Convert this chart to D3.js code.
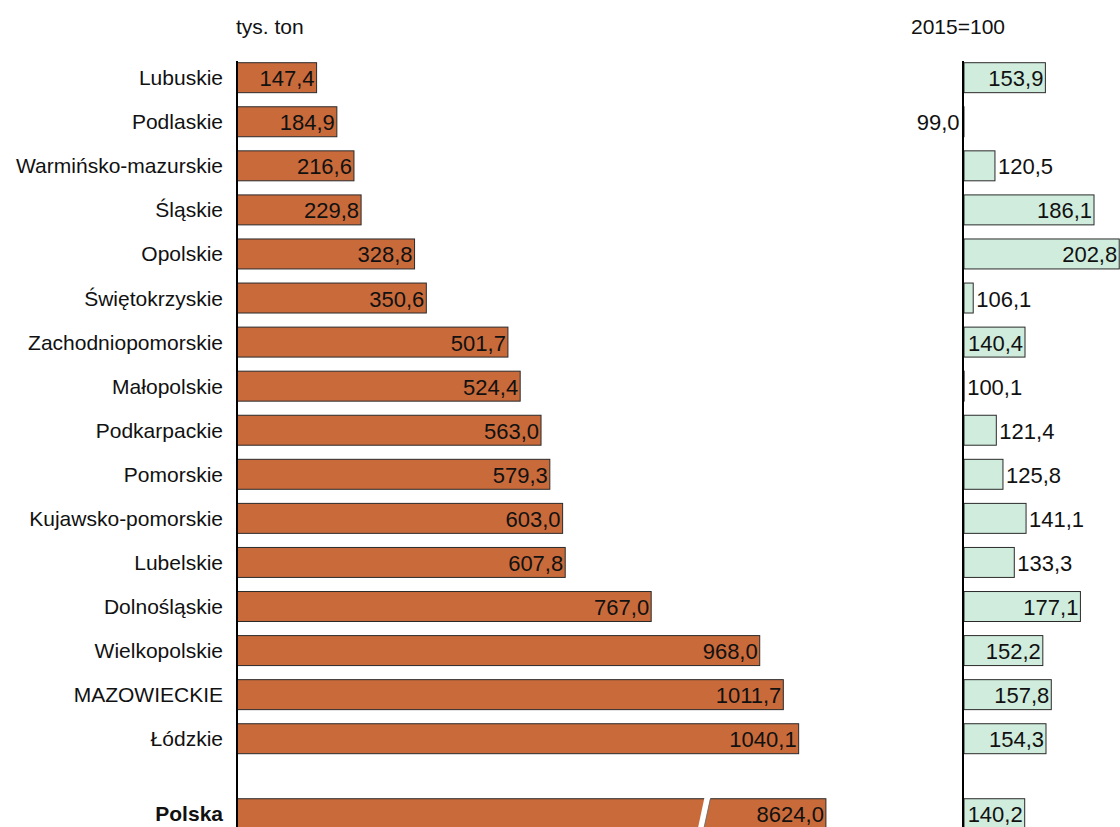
<!DOCTYPE html>
<html><head><meta charset="utf-8">
<script src="https://cdn.jsdelivr.net/npm/d3@7"></script>
<style>
html,body{margin:0;padding:0;background:#fff;}
svg text{font-family:"Liberation Sans",Arial,sans-serif;fill:#111;}
</style></head>
<body>
<svg id="chart" width="1120" height="827"></svg>
<script>
const regions = ["Lubuskie","Podlaskie","Warmińsko-mazurskie","Śląskie","Opolskie","Świętokrzyskie","Zachodniopomorskie","Małopolskie","Podkarpackie","Pomorskie","Kujawsko-pomorskie","Lubelskie","Dolnośląskie","Wielkopolskie","MAZOWIECKIE","Łódzkie"];
const tons = [147.4,184.9,216.6,229.8,328.8,350.6,501.7,524.4,563.0,579.3,603.0,607.8,767.0,968.0,1011.7,1040.1];
const index2015 = [153.9,99.0,120.5,186.1,202.8,106.1,140.4,100.1,121.4,125.8,141.1,133.3,177.1,152.2,157.8,154.3];
const totalName = "Polska";
const totalTons = 8624.0;
const totalIndex = 140.2;
const leftUnit = "tys. ton";
const rightUnit = "2015=100";
const outsideLabels = ["Podlaskie","Warmińsko-mazurskie","Świętokrzyskie","Małopolskie","Podkarpackie","Pomorskie","Kujawsko-pomorskie","Lubelskie"];

const fmt = v => d3.format(".1f")(v).replace(".", ",");
const svg = d3.select("#chart");

const ORANGE = "#C96A3B", GREEN = "#D0ECDD", STROKE = "#2a2a2a";

const y = d3.scaleBand().domain(regions).range([48.6, 767.8]).padding(0.32);
const bh = y.bandwidth();
const yTotal = y(regions[regions.length - 1]) + 75;

const x = d3.scaleLinear().domain([0, 1000]).range([237, 777]);
const xBroken = d3.scaleLinear().domain([0, 1000, 8000, 10000]).range([237, 777, 810, 861]);
const xr = d3.scaleLinear().domain([100, 200]).range([964, 1115]);

const rows = regions.map((r, i) => ({name: r, t: tons[i], idx: index2015[i], y: y(r), total: false}));
rows.push({name: totalName, t: totalTons, idx: totalIndex, y: yTotal, total: true});

const CAT = 21, VAL = 22;

// unit titles
svg.append("text").attr("x", 236).attr("y", 34).attr("font-size", CAT).text(leftUnit);
svg.append("text").attr("x", 911).attr("y", 34).attr("font-size", CAT).text(rightUnit);

// category labels
svg.selectAll("text.cat").data(rows).join("text")
  .attr("class", "cat")
  .attr("x", 223).attr("y", d => d.y + bh / 2 + 7.5)
  .attr("text-anchor", "end")
  .attr("font-size", CAT)
  .attr("font-weight", d => d.total ? "bold" : "normal")
  .text(d => d.name);

// left bars
svg.selectAll("rect.lb").data(rows).join("rect")
  .attr("class", "lb")
  .attr("x", x(0)).attr("y", d => d.y)
  .attr("width", d => (d.total ? xBroken(d.t) : x(d.t)) - x(0))
  .attr("height", bh)
  .attr("fill", ORANGE).attr("stroke", STROKE).attr("stroke-width", 1);

// break in total bar
const bx = x(860);
svg.append("polygon")
  .attr("points", [[bx - 4, yTotal + bh + 2], [bx + 3, yTotal - 1], [bx + 9, yTotal - 1], [bx + 2, yTotal + bh + 2]].map(p => p.join(",")).join(" "))
  .attr("fill", "#fff");
svg.append("line").attr("x1", bx + 9).attr("y1", yTotal).attr("x2", bx + 2).attr("y2", yTotal + bh + 2)
  .attr("stroke", "#666").attr("stroke-width", 0.8);

// left values
svg.selectAll("text.lv").data(rows).join("text")
  .attr("class", "lv")
  .attr("x", d => (d.total ? xBroken(d.t) : x(d.t)) - 2)
  .attr("y", d => d.y + bh / 2 + 8.5)
  .attr("text-anchor", "end")
  .attr("font-size", VAL)
  .text(d => fmt(d.t));

// right bars
svg.selectAll("rect.rb").data(rows).join("rect")
  .attr("class", "rb")
  .attr("x", d => Math.min(xr(100), xr(d.idx))).attr("y", d => d.y)
  .attr("width", d => Math.abs(xr(d.idx) - xr(100)))
  .attr("height", bh)
  .attr("fill", GREEN).attr("stroke", STROKE).attr("stroke-width", 1);

// right values
svg.selectAll("text.rv").data(rows).join("text")
  .attr("class", "rv")
  .attr("x", d => {
    if (d.idx < 100) return xr(d.idx) - 3;
    if (outsideLabels.includes(d.name)) return xr(d.idx) + 3;
    return xr(d.idx) - 2;
  })
  .attr("y", d => d.y + bh / 2 + 8.5)
  .attr("text-anchor", d => (d.idx < 100 || !outsideLabels.includes(d.name)) ? "end" : "start")
  .attr("font-size", VAL)
  .text(d => fmt(d.idx));

// axis lines
svg.append("line").attr("x1", x(0)).attr("x2", x(0)).attr("y1", 61).attr("y2", 827)
  .attr("stroke", "#000").attr("stroke-width", 2);
svg.append("line").attr("x1", xr(100) - 1).attr("x2", xr(100) - 1).attr("y1", 61).attr("y2", 827)
  .attr("stroke", "#000").attr("stroke-width", 2);
</script>
</body></html>
